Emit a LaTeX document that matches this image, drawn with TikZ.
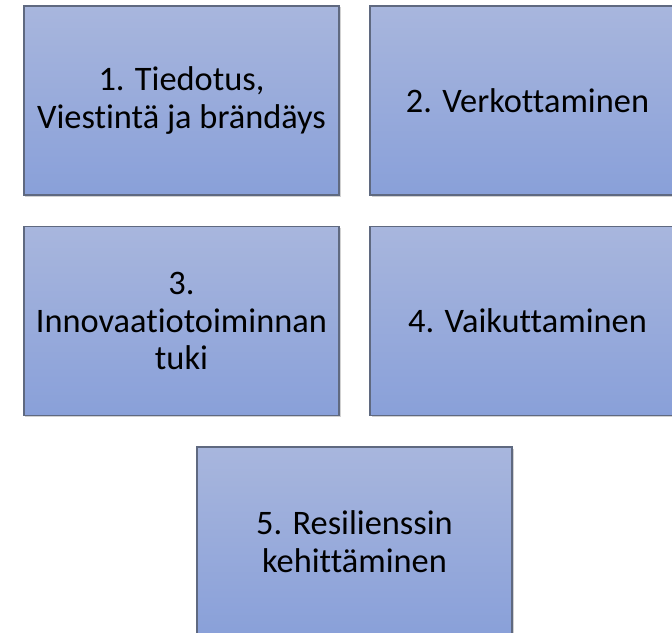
\documentclass[tikz,border=0pt]{standalone}
\usepackage{fontspec}
\setmainfont[Ligatures={NoCommon}]{Carlito}
\usetikzlibrary{shadows}
\definecolor{boxtop}{RGB}{168,182,221}
\definecolor{boxbot}{RGB}{137,160,217}
\definecolor{boxline}{RGB}{95,105,128}
\tikzset{
  panel/.style={rectangle, minimum width=315bp, minimum height=189bp, inner sep=0pt,
    top color=boxtop, bottom color=boxbot, draw=boxline, line width=1.3bp,
    align=center, font=\fontsize{34.5}{38}\selectfont, text=black,
    drop shadow={shadow xshift=1.5bp, shadow yshift=-1.5bp, fill=black, opacity=0.18}}
}
\begin{document}
\begin{tikzpicture}[x=1bp,y=-1bp]
\useasboundingbox (0,0) rectangle (672,633);
\clip (0,0) rectangle (672,633);
\node[panel] (b1) at (181.5,100.5) {1. Tiedotus,\\Viestintä ja brändäys};
\node[panel] (b2) at (527.5,100.5) {2. Verkottaminen};
\node[panel] (b3) at (181.5,321) {3.\\Innovaatiotoiminnan\\tuki};
\node[panel] (b4) at (527.5,321) {4. Vaikuttaminen};
\node[panel] (b5) at (354.5,541.5) {5. Resilienssin\\kehittäminen};
\end{tikzpicture}
\end{document}
